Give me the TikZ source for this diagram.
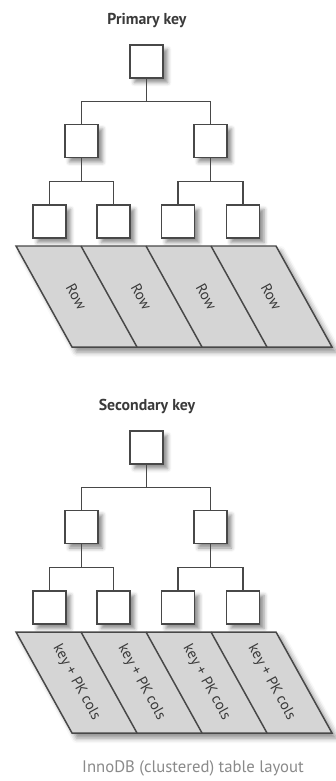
\documentclass[tikz,border=0pt]{standalone}
\usepackage{fontspec}
\setmainfont{PT Sans}
\usepackage{tikz}
\usetikzlibrary{calc,shadows.blur}
\definecolor{boxline}{HTML}{484848}
\definecolor{rowgrey}{HTML}{D5D5D5}
\definecolor{titlegrey}{HTML}{3A3A3A}
\definecolor{capgrey}{HTML}{8A8A8A}
\tikzset{
  keybox/.style   = {draw=boxline, line width=0.85pt, fill=white, minimum size=6.6mm, inner sep=0pt,
                     blur shadow={shadow xshift=0.9mm, shadow yshift=-0.9mm, shadow blur radius=0.8mm, shadow opacity=45}},
  rowstrip/.style = {draw=boxline, line width=0.85pt, fill=rowgrey,
                     blur shadow={shadow xshift=0.9mm, shadow yshift=-1.0mm, shadow blur radius=1mm, shadow opacity=45}},
  link/.style     = {draw=boxline, line width=0.85pt},
  treetitle/.style= {font=\fontsize{9}{10}\selectfont\bfseries, text=titlegrey, inner sep=1pt},
  rowlabel/.style = {font=\fontsize{8.5}{10}\selectfont, text=titlegrey, rotate=-61.2, inner sep=1pt},
  caption/.style  = {font=\fontsize{9.5}{11}\selectfont, text=capgrey, inner sep=1pt},
}

\begin{document}
\begin{tikzpicture}[x=0.02cm,y=-0.02cm]
  \useasboundingbox (0,0) rectangle (335,781);
  \foreach \dy/\ttl/\lbl/\t in {0/Primary key/Row/p, 386/Secondary key/key + PK cols/s} {
    % title and B-tree nodes
    \node[treetitle] (\t-title) at (147,20+\dy) {\ttl};
    \node[keybox] (\t-root) at (146.5,61.5+\dy) {};
    \node[keybox] (\t-a) at (81.5,141+\dy) {};
    \node[keybox] (\t-b) at (210.5,141+\dy) {};
    \foreach \i/\x in {1/49.5,2/113.5,3/178,4/243}
      \node[keybox] (\t-leaf\i) at (\x,221.5+\dy) {};
    % tree links
    \coordinate (\t-bar) at ($(\t-root.south)!.5!(\t-a.north)$);
    \coordinate (\t-abar) at ($(\t-a.south)!.5!(\t-leaf1.north)$);
    \coordinate (\t-bbar) at ($(\t-b.south)!.5!(\t-leaf3.north)$);
    \draw[link] (\t-root.south) -- (\t-root.south |- \t-bar);
    \draw[link] (\t-a.north) |- (\t-bar) -| (\t-b.north);
    \draw[link] (\t-a.south) -- (\t-a.south |- \t-abar);
    \draw[link] (\t-leaf1.north) |- (\t-abar) -| (\t-leaf2.north);
    \draw[link] (\t-b.south) -- (\t-b.south |- \t-bbar);
    \draw[link] (\t-leaf3.north) |- (\t-bbar) -| (\t-leaf4.north);
    % slanted row strip
    \path[rowstrip] (16,246+\dy) -- (276,246+\dy) -- (332,347+\dy) -- (72,347+\dy) -- cycle;
    \foreach \x in {81,146,211}
      \draw[link] (\x,246+\dy) -- (\x+56,347+\dy);
    \foreach \i/\x in {1/76.5,2/141.5,3/206.5,4/271.5}
      \node[rowlabel] (\t-row\i) at (\x,296.5+\dy) {\lbl};
  }
  \node[caption] (caption) at (193,768) {InnoDB (clustered) table layout};
\end{tikzpicture}
\end{document}
